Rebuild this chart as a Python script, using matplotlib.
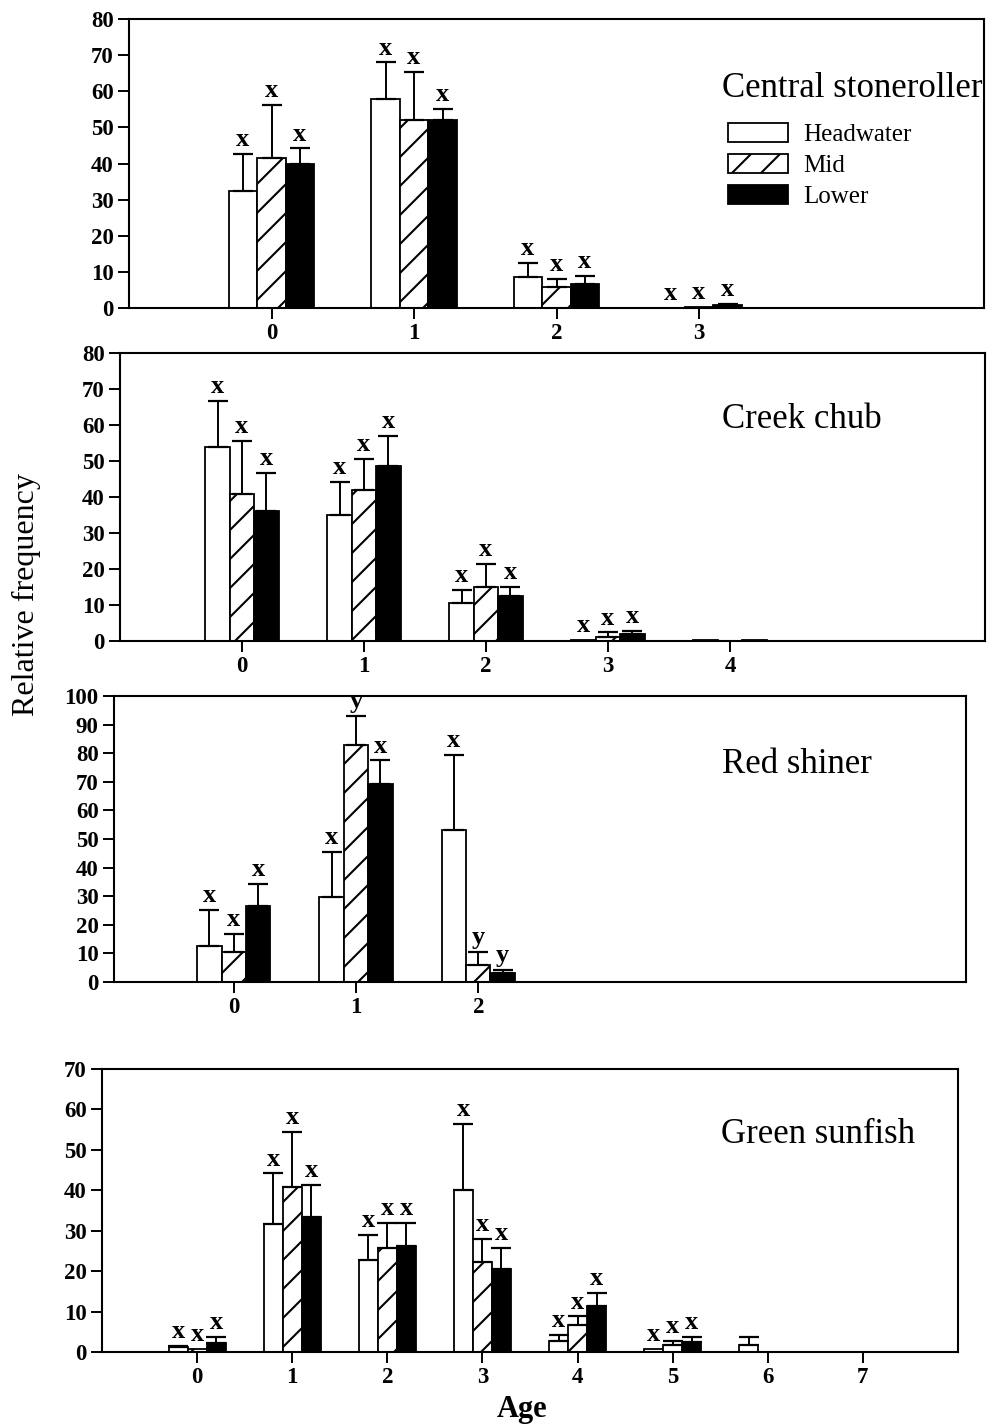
import numpy as np
import matplotlib
matplotlib.use("Agg")
import matplotlib.pyplot as plt
from matplotlib.collections import LineCollection
from matplotlib.transforms import IdentityTransform

plt.rcParams['font.family'] = ['Liberation Serif', 'DejaVu Serif']

# ---------------- data ----------------
series_names = ["Headwater", "Mid", "Lower"]

# Central stoneroller
stone_ages = [0, 1, 2, 3]
stone_head = [32.5, 57.9, 8.7, 0.0]
stone_mid = [41.6, 52.0, 5.7, 0.3]
stone_low = [39.8, 52.0, 6.6, 0.8]
stone_head_se = [10.1, 10.1, 3.7, 0.0]
stone_mid_se = [14.6, 13.3, 2.3, 0.0]
stone_low_se = [4.4, 3.2, 2.3, 0.4]
stone_letters = [["x", "x", "x"], ["x", "x", "x"], ["x", "x", "x"], ["x", "x", "x"]]

# Creek chub
chub_ages = [0, 1, 2, 3, 4]
chub_head = [53.9, 35.0, 10.5, 0.3, 0.2]
chub_mid = [40.8, 41.9, 15.1, 1.2, 0.0]
chub_low = [36.1, 48.7, 12.5, 2.0, 0.3]
chub_head_se = [12.7, 9.2, 3.7, 0.0, 0.0]
chub_mid_se = [14.7, 8.6, 6.3, 1.2, 0.0]
chub_low_se = [10.6, 8.3, 2.6, 0.8, 0.0]
chub_letters = [["x", "x", "x"], ["x", "x", "x"], ["x", "x", "x"], ["x", "x", "x"], ["", "", ""]]

# Red shiner
shiner_ages = [0, 1, 2]
shiner_head = [12.5, 29.7, 53.0]
shiner_mid = [10.5, 82.7, 5.8]
shiner_low = [26.6, 69.4, 3.1]
shiner_head_se = [12.6, 15.8, 26.3]
shiner_mid_se = [6.2, 10.3, 4.6]
shiner_low_se = [7.6, 8.1, 1.0]
shiner_letters = [["x", "x", "x"], ["x", "y", "x"], ["x", "y", "y"]]

# Green sunfish
sunfish_ages = [0, 1, 2, 3, 4, 5, 6, 7]
sunfish_head = [1.2, 31.7, 22.8, 40.1, 2.6, 0.7, 1.8, 0.0]
sunfish_mid = [0.8, 40.9, 25.8, 22.2, 6.7, 1.8, 0.0, 0.0]
sunfish_low = [2.3, 33.4, 26.3, 20.5, 11.3, 2.5, 0.0, 0.0]
sunfish_head_se = [0.3, 12.5, 6.2, 16.3, 1.7, 0.0, 1.9, 0.0]
sunfish_mid_se = [0.0, 13.6, 6.2, 5.8, 2.1, 1.0, 0.0, 0.0]
sunfish_low_se = [1.4, 7.9, 5.7, 5.2, 3.4, 1.2, 0.0, 0.0]
sunfish_letters = [["x", "x", "x"]] * 6 + [["", "", ""], ["", "", ""]]

species = ["Central stoneroller", "Creek chub", "Red shiner", "Green sunfish"]

# ---------------- layout ----------------
W, H = 988, 1427
fig = plt.figure(figsize=(W / 100, H / 100), dpi=100)


def px_axes(left, top, right, bottom):
    return fig.add_axes([left / W, 1 - bottom / H, (right - left) / W, (bottom - top) / H])


panels = [
    dict(box=(129, 19, 984, 308), xlim=(-1, 5), ylim=(0, 80), yt=np.arange(0, 81, 10),
         ages=stone_ages, vals=(stone_head, stone_mid, stone_low),
         se=(stone_head_se, stone_mid_se, stone_low_se), letters=stone_letters,
         title_xy=(722, 97), legend=True),
    dict(box=(120, 353, 985, 641), xlim=(-1, 6.09), ylim=(0, 80), yt=np.arange(0, 81, 10),
         ages=chub_ages, vals=(chub_head, chub_mid, chub_low),
         se=(chub_head_se, chub_mid_se, chub_low_se), letters=chub_letters,
         title_xy=(722, 428), legend=False),
    dict(box=(114, 696, 966, 982), xlim=(-0.98, 5.99), ylim=(0, 100), yt=np.arange(0, 101, 10),
         ages=shiner_ages, vals=(shiner_head, shiner_mid, shiner_low),
         se=(shiner_head_se, shiner_mid_se, shiner_low_se), letters=shiner_letters,
         title_xy=(722, 773), legend=False),
    dict(box=(102, 1069, 958, 1352), xlim=(-1, 8), ylim=(0, 70), yt=np.arange(0, 71, 10),
         ages=sunfish_ages, vals=(sunfish_head, sunfish_mid, sunfish_low),
         se=(sunfish_head_se, sunfish_mid_se, sunfish_low_se), letters=sunfish_letters,
         title_xy=(721, 1143), legend=False),
]

bw = 0.2
offsets = [-bw, 0.0, bw]
faces = ["white", "white", "black"]
hatch_spacing = 29  # pixels

mid_bar_sets = []
legend_obj = None

for i, p in enumerate(panels):
    ax = px_axes(*p["box"])
    ax.set_xlim(*p["xlim"])
    ax.set_ylim(*p["ylim"])
    x = np.array(p["ages"], dtype=float)
    for k in range(3):
        vals = np.array(p["vals"][k])
        se = np.array(p["se"][k])
        bars = ax.bar(x + offsets[k], vals, width=bw, color=faces[k], edgecolor="black",
                      linewidth=1.3, label=series_names[k], zorder=2)
        if k == 1:
            mid_bar_sets.append((ax, bars))
        m = se > 0
        if m.any():
            ax.errorbar(x[m] + offsets[k], vals[m], yerr=[np.zeros(m.sum()), se[m]], fmt="none",
                        ecolor="black", elinewidth=1.4, capsize=7, capthick=1.6, zorder=3)
        for j in range(len(x)):
            lab = p["letters"][j][k]
            if lab:
                ax.annotate(lab, xy=(x[j] + offsets[k], vals[j] + se[j]), xytext=(0, 2),
                            textcoords="offset points", ha="center", va="bottom",
                            fontsize=19, fontweight="bold", annotation_clip=False, zorder=4)
    ax.set_xticks(p["ages"])
    ax.set_xticklabels([str(a) for a in p["ages"]])
    ax.set_yticks(p["yt"])
    ax.tick_params(direction="out", length=8, width=1.4, labelsize=16.5, pad=3)
    for lbl in ax.get_xticklabels() + ax.get_yticklabels():
        lbl.set_fontweight("bold")
    for s in ax.spines.values():
        s.set_linewidth(1.5)
    tx, ty = p["title_xy"]
    fig.text(tx / W, 1 - ty / H, species[i], fontsize=25, ha="left", va="baseline")
    if p["legend"]:
        legend_obj = ax.legend(loc="upper left", bbox_to_anchor=(0.701, 0.64), frameon=False,
                               fontsize=18, handlelength=2.4, handleheight=0.8,
                               handletextpad=0.6, labelspacing=0.3, borderpad=0,
                               borderaxespad=0)
        for h in legend_obj.legend_handles:
            h.set_linewidth(1.3)

fig.text(26 / W, 1 - 595 / H, "Relative frequency", rotation=90, fontsize=23,
         ha="center", va="center")
fig.text(522 / W, 1 - 1410 / H, "Age", fontsize=22, fontweight="bold", ha="center", va="center")

fig.canvas.draw()


def add_hatch(patch, x0, y0, x1, y1):
    segs = []
    c = np.floor((x0 - y1) / hatch_spacing) * hatch_spacing
    while c <= (x1 - y0):
        segs.append([(y0 + c, y0), (y1 + c, y1)])
        c += hatch_spacing
    lc = LineCollection(segs, colors="black", linewidths=1.5, transform=IdentityTransform(),
                        zorder=2.5)
    fig.add_artist(lc)
    lc.set_clip_path(patch)


for ax, bars in mid_bar_sets:
    for b in bars:
        if b.get_height() <= 0:
            continue
        bb = b.get_window_extent()
        add_hatch(b, bb.x0, bb.y0, bb.x1, bb.y1)

if legend_obj is not None:
    hp = legend_obj.legend_handles[1]
    bb = hp.get_window_extent()
    add_hatch(hp, bb.x0, bb.y0, bb.x1, bb.y1)

fig.savefig("out.png", dpi=100)
